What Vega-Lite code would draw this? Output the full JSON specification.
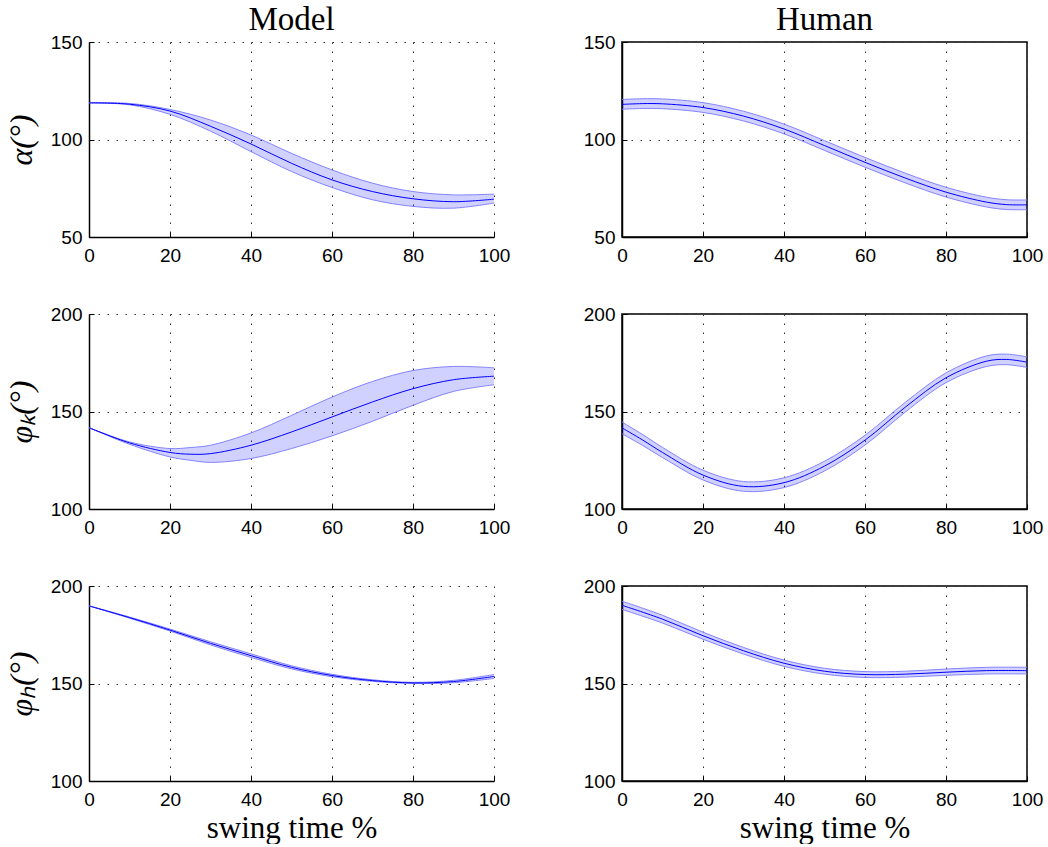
{
  "$schema": "https://vega.github.io/schema/vega-lite/v6.json",
  "background": "white",
  "padding": {"left": 5, "top": 3, "right": 5, "bottom": 0},
  "autosize": {"type": "pad"},
  "bounds": "flush",
  "columns": 2,
  "spacing": {"row": 77, "column": 128},
  "datasets": {
    "curves": [
      {"p": "ma", "t": 0, "m": 118.8, "lo": 118.8, "hi": 118.8},
      {"p": "ma", "t": 10, "m": 118.1, "lo": 117.8, "hi": 118.5},
      {"p": "ma", "t": 20, "m": 114.6, "lo": 112.9, "hi": 115.4},
      {"p": "ma", "t": 30, "m": 106.8, "lo": 104.3, "hi": 110.0},
      {"p": "ma", "t": 40, "m": 97.7, "lo": 93.8, "hi": 102.3},
      {"p": "ma", "t": 50, "m": 87.8, "lo": 83.6, "hi": 92.9},
      {"p": "ma", "t": 60, "m": 79.3, "lo": 75.4, "hi": 84.4},
      {"p": "ma", "t": 70, "m": 73.3, "lo": 69.1, "hi": 77.6},
      {"p": "ma", "t": 80, "m": 69.6, "lo": 65.7, "hi": 73.3},
      {"p": "ma", "t": 90, "m": 68.1, "lo": 64.8, "hi": 71.6},
      {"p": "ma", "t": 100, "m": 69.4, "lo": 67.4, "hi": 72.0},

      {"p": "ha", "t": 0, "m": 118.0, "lo": 115.5, "hi": 120.5},
      {"p": "ha", "t": 5, "m": 118.4, "lo": 115.9, "hi": 120.9},
      {"p": "ha", "t": 10, "m": 118.3, "lo": 115.8, "hi": 120.8},
      {"p": "ha", "t": 20, "m": 116.4, "lo": 113.9, "hi": 118.9},
      {"p": "ha", "t": 30, "m": 112.0, "lo": 109.5, "hi": 114.5},
      {"p": "ha", "t": 40, "m": 105.4, "lo": 102.9, "hi": 107.9},
      {"p": "ha", "t": 50, "m": 96.9, "lo": 94.4, "hi": 99.4},
      {"p": "ha", "t": 60, "m": 88.3, "lo": 85.8, "hi": 90.8},
      {"p": "ha", "t": 70, "m": 80.2, "lo": 77.7, "hi": 82.7},
      {"p": "ha", "t": 80, "m": 73.0, "lo": 70.5, "hi": 75.5},
      {"p": "ha", "t": 90, "m": 67.9, "lo": 65.4, "hi": 70.4},
      {"p": "ha", "t": 95, "m": 66.6, "lo": 64.1, "hi": 69.1},
      {"p": "ha", "t": 100, "m": 66.5, "lo": 64.0, "hi": 69.0},

      {"p": "mk", "t": 0, "m": 141.7, "lo": 141.7, "hi": 141.7},
      {"p": "mk", "t": 10, "m": 133.9, "lo": 133.2, "hi": 134.4},
      {"p": "mk", "t": 20, "m": 129.0, "lo": 126.7, "hi": 131.0},
      {"p": "mk", "t": 25, "m": 128.1, "lo": 125.0, "hi": 131.5},
      {"p": "mk", "t": 30, "m": 128.4, "lo": 123.9, "hi": 132.7},
      {"p": "mk", "t": 40, "m": 132.7, "lo": 125.9, "hi": 139.0},
      {"p": "mk", "t": 50, "m": 139.5, "lo": 131.0, "hi": 148.0},
      {"p": "mk", "t": 60, "m": 147.2, "lo": 137.5, "hi": 157.4},
      {"p": "mk", "t": 70, "m": 154.9, "lo": 145.0, "hi": 165.4},
      {"p": "mk", "t": 80, "m": 161.7, "lo": 153.2, "hi": 171.0},
      {"p": "mk", "t": 90, "m": 166.3, "lo": 160.3, "hi": 173.1},
      {"p": "mk", "t": 100, "m": 168.1, "lo": 163.7, "hi": 172.4},

      {"p": "hk", "t": 0, "m": 141.6, "lo": 138.6, "hi": 144.6},
      {"p": "hk", "t": 5, "m": 135.5, "lo": 132.7, "hi": 138.3},
      {"p": "hk", "t": 10, "m": 129.0, "lo": 126.4, "hi": 131.6},
      {"p": "hk", "t": 20, "m": 117.4, "lo": 114.9, "hi": 119.9},
      {"p": "hk", "t": 30, "m": 111.6, "lo": 109.1, "hi": 114.1},
      {"p": "hk", "t": 40, "m": 113.5, "lo": 111.0, "hi": 116.0},
      {"p": "hk", "t": 50, "m": 122.0, "lo": 119.5, "hi": 124.5},
      {"p": "hk", "t": 60, "m": 135.3, "lo": 132.8, "hi": 137.8},
      {"p": "hk", "t": 70, "m": 152.3, "lo": 149.8, "hi": 154.8},
      {"p": "hk", "t": 80, "m": 167.3, "lo": 164.8, "hi": 169.8},
      {"p": "hk", "t": 90, "m": 175.8, "lo": 173.1, "hi": 178.5},
      {"p": "hk", "t": 95, "m": 176.7, "lo": 174.0, "hi": 179.4},
      {"p": "hk", "t": 100, "m": 175.3, "lo": 172.6, "hi": 178.0},

      {"p": "mh", "t": 0, "m": 189.8, "lo": 189.8, "hi": 189.8},
      {"p": "mh", "t": 10, "m": 183.8, "lo": 183.5, "hi": 184.1},
      {"p": "mh", "t": 20, "m": 177.4, "lo": 176.9, "hi": 177.9},
      {"p": "mh", "t": 30, "m": 170.6, "lo": 169.8, "hi": 171.4},
      {"p": "mh", "t": 40, "m": 164.3, "lo": 163.4, "hi": 165.2},
      {"p": "mh", "t": 50, "m": 158.3, "lo": 157.5, "hi": 159.1},
      {"p": "mh", "t": 60, "m": 154.1, "lo": 153.5, "hi": 154.7},
      {"p": "mh", "t": 70, "m": 151.5, "lo": 151.1, "hi": 151.9},
      {"p": "mh", "t": 80, "m": 150.3, "lo": 150.0, "hi": 150.6},
      {"p": "mh", "t": 90, "m": 151.0, "lo": 150.4, "hi": 151.6},
      {"p": "mh", "t": 100, "m": 153.6, "lo": 152.6, "hi": 154.6},

      {"p": "hh", "t": 0, "m": 190.1, "lo": 188.0, "hi": 192.2},
      {"p": "hh", "t": 10, "m": 183.0, "lo": 181.0, "hi": 185.0},
      {"p": "hh", "t": 20, "m": 174.5, "lo": 172.7, "hi": 176.3},
      {"p": "hh", "t": 30, "m": 166.8, "lo": 165.1, "hi": 168.5},
      {"p": "hh", "t": 40, "m": 160.4, "lo": 158.8, "hi": 162.0},
      {"p": "hh", "t": 50, "m": 156.3, "lo": 154.8, "hi": 157.8},
      {"p": "hh", "t": 60, "m": 154.6, "lo": 153.1, "hi": 156.1},
      {"p": "hh", "t": 70, "m": 154.8, "lo": 153.3, "hi": 156.3},
      {"p": "hh", "t": 80, "m": 155.8, "lo": 154.2, "hi": 157.4},
      {"p": "hh", "t": 90, "m": 156.6, "lo": 154.9, "hi": 158.3},
      {"p": "hh", "t": 100, "m": 156.6, "lo": 154.9, "hi": 158.3}
    ]
  },
  "data": {"name": "curves"},
  "concat": [
    {
      "width": 405, "height": 195,
      "title": {"text": "Model"},
      "view": {"stroke": null},
      "transform": [{"filter": "datum.p === 'ma'"}],
      "encoding": {
        "x": {"field": "t", "type": "quantitative", "scale": {"domain": [0, 100], "nice": false}, "axis": {"values": [0, 20, 40, 60, 80, 100], "title": null}}
      },
      "layer": [
        {
          "mark": {"type": "area", "fill": "#0000ff", "fillOpacity": 0.18, "interpolate": "catmull-rom"},
          "encoding": {
            "y": {"field": "lo", "type": "quantitative", "scale": {"domain": [50, 150], "nice": false, "zero": false}, "axis": {"values": [50, 100, 150]}, "title": "α(°)"},
            "y2": {"field": "hi"}
          }
        },
        {
          "transform": [{"fold": ["hi", "lo", "m"], "as": ["series", "v"]}],
          "mark": {"type": "line", "interpolate": "catmull-rom"},
          "encoding": {
            "y": {"field": "v", "type": "quantitative", "scale": {"domain": [50, 150], "nice": false, "zero": false}, "axis": {"values": [50, 100, 150]}, "title": "α(°)"},
            "detail": {"field": "series"},
            "stroke": {"field": "series", "scale": {"domain": ["hi", "lo", "m"], "range": ["#8383ff", "#8383ff", "#0000ff"]}, "legend": null},
            "strokeWidth": {"field": "series", "scale": {"domain": ["hi", "lo", "m"], "range": [1, 1, 1.5]}, "legend": null}
          }
        }
      ]
    },
    {
      "width": 405, "height": 195,
      "title": {"text": "Human"},
      "view": {"stroke": "black", "strokeWidth": 1.5},
      "transform": [{"filter": "datum.p === 'ha'"}],
      "encoding": {
        "x": {"field": "t", "type": "quantitative", "scale": {"domain": [0, 100], "nice": false}, "axis": {"values": [0, 20, 40, 60, 80, 100], "title": null}}
      },
      "layer": [
        {
          "mark": {"type": "area", "fill": "#0000ff", "fillOpacity": 0.18, "interpolate": "catmull-rom"},
          "encoding": {
            "y": {"field": "lo", "type": "quantitative", "scale": {"domain": [50, 150], "nice": false, "zero": false}, "axis": {"values": [50, 100, 150]}, "title": null},
            "y2": {"field": "hi"}
          }
        },
        {
          "transform": [{"fold": ["hi", "lo", "m"], "as": ["series", "v"]}],
          "mark": {"type": "line", "interpolate": "catmull-rom"},
          "encoding": {
            "y": {"field": "v", "type": "quantitative", "scale": {"domain": [50, 150], "nice": false, "zero": false}, "axis": {"values": [50, 100, 150]}, "title": null},
            "detail": {"field": "series"},
            "stroke": {"field": "series", "scale": {"domain": ["hi", "lo", "m"], "range": ["#8383ff", "#8383ff", "#0000ff"]}, "legend": null},
            "strokeWidth": {"field": "series", "scale": {"domain": ["hi", "lo", "m"], "range": [1, 1, 1.5]}, "legend": null}
          }
        }
      ]
    },
    {
      "width": 405, "height": 195,
      "view": {"stroke": null},
      "transform": [{"filter": "datum.p === 'mk'"}],
      "encoding": {
        "x": {"field": "t", "type": "quantitative", "scale": {"domain": [0, 100], "nice": false}, "axis": {"values": [0, 20, 40, 60, 80, 100], "title": null}}
      },
      "layer": [
        {
          "mark": {"type": "area", "fill": "#0000ff", "fillOpacity": 0.18, "interpolate": "catmull-rom"},
          "encoding": {
            "y": {"field": "lo", "type": "quantitative", "scale": {"domain": [100, 200], "nice": false, "zero": false}, "axis": {"values": [100, 150, 200]}, "title": "φₖ(°)"},
            "y2": {"field": "hi"}
          }
        },
        {
          "transform": [{"fold": ["hi", "lo", "m"], "as": ["series", "v"]}],
          "mark": {"type": "line", "interpolate": "catmull-rom"},
          "encoding": {
            "y": {"field": "v", "type": "quantitative", "scale": {"domain": [100, 200], "nice": false, "zero": false}, "axis": {"values": [100, 150, 200]}, "title": "φₖ(°)"},
            "detail": {"field": "series"},
            "stroke": {"field": "series", "scale": {"domain": ["hi", "lo", "m"], "range": ["#8383ff", "#8383ff", "#0000ff"]}, "legend": null},
            "strokeWidth": {"field": "series", "scale": {"domain": ["hi", "lo", "m"], "range": [1, 1, 1.5]}, "legend": null}
          }
        }
      ]
    },
    {
      "width": 405, "height": 195,
      "view": {"stroke": "black", "strokeWidth": 1.5},
      "transform": [{"filter": "datum.p === 'hk'"}],
      "encoding": {
        "x": {"field": "t", "type": "quantitative", "scale": {"domain": [0, 100], "nice": false}, "axis": {"values": [0, 20, 40, 60, 80, 100], "title": null}}
      },
      "layer": [
        {
          "mark": {"type": "area", "fill": "#0000ff", "fillOpacity": 0.18, "interpolate": "catmull-rom"},
          "encoding": {
            "y": {"field": "lo", "type": "quantitative", "scale": {"domain": [100, 200], "nice": false, "zero": false}, "axis": {"values": [100, 150, 200]}, "title": null},
            "y2": {"field": "hi"}
          }
        },
        {
          "transform": [{"fold": ["hi", "lo", "m"], "as": ["series", "v"]}],
          "mark": {"type": "line", "interpolate": "catmull-rom"},
          "encoding": {
            "y": {"field": "v", "type": "quantitative", "scale": {"domain": [100, 200], "nice": false, "zero": false}, "axis": {"values": [100, 150, 200]}, "title": null},
            "detail": {"field": "series"},
            "stroke": {"field": "series", "scale": {"domain": ["hi", "lo", "m"], "range": ["#8383ff", "#8383ff", "#0000ff"]}, "legend": null},
            "strokeWidth": {"field": "series", "scale": {"domain": ["hi", "lo", "m"], "range": [1, 1, 1.5]}, "legend": null}
          }
        }
      ]
    },
    {
      "width": 405, "height": 195,
      "view": {"stroke": null},
      "transform": [{"filter": "datum.p === 'mh'"}],
      "encoding": {
        "x": {"field": "t", "type": "quantitative", "scale": {"domain": [0, 100], "nice": false}, "axis": {"values": [0, 20, 40, 60, 80, 100]}, "title": "swing time %"}
      },
      "layer": [
        {
          "mark": {"type": "area", "fill": "#0000ff", "fillOpacity": 0.18, "interpolate": "catmull-rom"},
          "encoding": {
            "y": {"field": "lo", "type": "quantitative", "scale": {"domain": [100, 200], "nice": false, "zero": false}, "axis": {"values": [100, 150, 200]}, "title": "φₕ(°)"},
            "y2": {"field": "hi"}
          }
        },
        {
          "transform": [{"fold": ["hi", "lo", "m"], "as": ["series", "v"]}],
          "mark": {"type": "line", "interpolate": "catmull-rom"},
          "encoding": {
            "y": {"field": "v", "type": "quantitative", "scale": {"domain": [100, 200], "nice": false, "zero": false}, "axis": {"values": [100, 150, 200]}, "title": "φₕ(°)"},
            "detail": {"field": "series"},
            "stroke": {"field": "series", "scale": {"domain": ["hi", "lo", "m"], "range": ["#8383ff", "#8383ff", "#0000ff"]}, "legend": null},
            "strokeWidth": {"field": "series", "scale": {"domain": ["hi", "lo", "m"], "range": [1, 1, 1.5]}, "legend": null}
          }
        }
      ]
    },
    {
      "width": 405, "height": 195,
      "view": {"stroke": "black", "strokeWidth": 1.5},
      "transform": [{"filter": "datum.p === 'hh'"}],
      "encoding": {
        "x": {"field": "t", "type": "quantitative", "scale": {"domain": [0, 100], "nice": false}, "axis": {"values": [0, 20, 40, 60, 80, 100]}, "title": "swing time %"}
      },
      "layer": [
        {
          "mark": {"type": "area", "fill": "#0000ff", "fillOpacity": 0.18, "interpolate": "catmull-rom"},
          "encoding": {
            "y": {"field": "lo", "type": "quantitative", "scale": {"domain": [100, 200], "nice": false, "zero": false}, "axis": {"values": [100, 150, 200]}, "title": null},
            "y2": {"field": "hi"}
          }
        },
        {
          "transform": [{"fold": ["hi", "lo", "m"], "as": ["series", "v"]}],
          "mark": {"type": "line", "interpolate": "catmull-rom"},
          "encoding": {
            "y": {"field": "v", "type": "quantitative", "scale": {"domain": [100, 200], "nice": false, "zero": false}, "axis": {"values": [100, 150, 200]}, "title": null},
            "detail": {"field": "series"},
            "stroke": {"field": "series", "scale": {"domain": ["hi", "lo", "m"], "range": ["#8383ff", "#8383ff", "#0000ff"]}, "legend": null},
            "strokeWidth": {"field": "series", "scale": {"domain": ["hi", "lo", "m"], "range": [1, 1, 1.5]}, "legend": null}
          }
        }
      ]
    }
  ],
  "config": {
    "font": "Liberation Sans",
    "view": {"stroke": null},
    "axis": {
      "labelFont": "Liberation Sans",
      "labelFontSize": 19,
      "labelColor": "black",
      "labelFlush": false,
      "labelOverlap": false,
      "domainColor": "black",
      "domainWidth": 1.5,
      "tickColor": "black",
      "tickSize": -5,
      "labelPadding": 12,
      "grid": true,
      "gridColor": "#333333",
      "gridDash": [1.5, 7.5],
      "gridWidth": 1,
      "titleFont": "Liberation Serif",
      "titleFontWeight": "normal",
      "titleColor": "black"
    },
    "axisX": {"titleFontSize": 31, "titlePadding": 4, "labelPadding": 14},
    "axisY": {"titleFontSize": 32, "titleFontStyle": "italic", "titlePadding": 12},
    "title": {"font": "Liberation Serif", "fontSize": 33, "fontWeight": "normal", "color": "black", "offset": -4, "frame": "group"}
  }
}
